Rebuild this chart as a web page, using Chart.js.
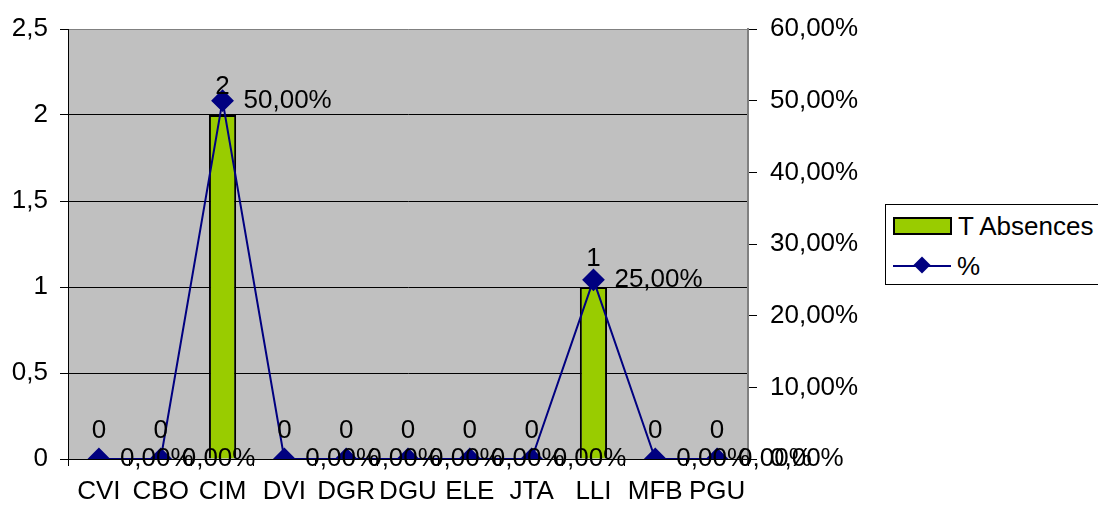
<!DOCTYPE html>
<html lang="fr">
<head>
  <meta charset="UTF-8" />
  <title>T Absences / %</title>
  <script src="https://cdn.jsdelivr.net/npm/chart.js"></script>
  <style>
    html, body {
      margin: 0;
      padding: 0;
      background: #fff;
      overflow: hidden;
    }
    #wrap {
      position: relative;
      width: 1098px;
      height: 507px;
    }
    #legend {
      position: absolute;
      left: 885px;
      top: 204px;
      width: 240px;
      height: 79px;
      border: 1px solid #000;
      background: #fff;
      font-family: "Liberation Sans", Arial, sans-serif;
      font-size: 26px;
      color: #000;
    }
    .row {
      position: absolute;
      left: 7px;
      height: 30px;
      display: flex;
      align-items: center;
    }
    .swatch-bar {
      width: 55px;
      height: 14px;
      background: #99cc00;
      border: 2px solid #000;
      margin-right: 6px;
    }
    .swatch-line {
      position: relative;
      width: 58px;
      height: 2px;
      background: #000080;
      margin-right: 6px;
    }
    .swatch-line span {
      position: absolute;
      left: 23px;
      top: -6px;
      width: 12px;
      height: 12px;
      background: #000080;
      transform: rotate(45deg);
    }
  </style>
</head>
<body>
  <div id="wrap">
    <canvas id="absChart" width="1098" height="507"></canvas>
    <div id="legend">
      <div class="row" style="top:6px"><div class="swatch-bar"></div>T Absences</div>
      <div class="row" style="top:46px"><div class="swatch-line"><span></span></div>%</div>
    </div>
  </div>

  <script>
    // données
    const categories = ["CVI", "CBO", "CIM", "DVI", "DGR", "DGU", "ELE", "JTA", "LLI", "MFB", "PGU"];
    const absences = [0, 0, 2, 0, 0, 0, 0, 0, 1, 0, 0];
    const percents = [0, 0, 50, 0, 0, 0, 0, 0, 25, 0, 0];
    const leftTicks = [0, 0.5, 1, 1.5, 2, 2.5];
    const rightTicks = [0, 10, 20, 30, 40, 50, 60];

    const FONT = { family: "'Liberation Sans', Arial, sans-serif", size: 26 };

    function fmtPct(v) {
      return v.toFixed(2).replace(".", ",") + "%";
    }

    // fond gris de la zone de tracé
    const plotBg = {
      id: "plotBg",
      beforeDraw(chart) {
        const a = chart.chartArea;
        const ctx = chart.ctx;
        ctx.save();
        ctx.fillStyle = "#c0c0c0";
        ctx.fillRect(a.left, a.top, a.right - a.left, a.bottom - a.top);
        ctx.restore();
      }
    };

    // étiquettes de valeurs
    const valueLabels = {
      id: "valueLabels",
      afterDatasetsDraw(chart) {
        const ctx = chart.ctx;
        ctx.save();
        ctx.font = FONT.size + "px " + FONT.family;
        ctx.fillStyle = "#000";
        ctx.textBaseline = "middle";

        const bars = chart.getDatasetMeta(1).data;
        ctx.textAlign = "center";
        bars.forEach((el, i) => {
          ctx.fillText(String(absences[i]), el.x, el.y - 28);
        });

        const pts = chart.getDatasetMeta(0).data;
        ctx.textAlign = "left";
        pts.forEach((el, i) => {
          ctx.fillText(fmtPct(percents[i]), el.x + 21, el.y);
        });
        ctx.restore();
      }
    };

    new Chart(document.getElementById("absChart"), {
      data: {
        labels: categories,
        datasets: [
          {
            type: "line",
            label: "%",
            data: percents,
            yAxisID: "y1",
            borderColor: "#000080",
            borderWidth: 2,
            backgroundColor: "#000080",
            pointStyle: "rectRot",
            pointRadius: 10,
            pointHoverRadius: 10,
            tension: 0,
            order: 0
          },
          {
            type: "bar",
            label: "T Absences",
            data: absences,
            yAxisID: "y",
            backgroundColor: "#99cc00",
            borderColor: "#000",
            borderWidth: 2,
            categoryPercentage: 1,
            barPercentage: 0.44,
            order: 1
          }
        ]
      },
      options: {
        responsive: false,
        animation: false,
        devicePixelRatio: 1,
        layout: { padding: { top: 29, left: 0, right: 0, bottom: 0 } },
        plugins: {
          legend: { display: false },
          tooltip: { enabled: false }
        },
        scales: {
          x: {
            offset: true,
            grid: {
              offset: true,
              drawOnChartArea: false,
              drawTicks: true,
              tickLength: 7,
              tickColor: "#000"
            },
            border: { display: true, color: "#000", width: 1 },
            ticks: { font: FONT, color: "#000", padding: 10, maxRotation: 0, autoSkip: false },
            afterFit(scale) { scale.height = 48; }
          },
          y: {
            position: "left",
            min: 0,
            max: 2.5,
            afterBuildTicks(scale) { scale.ticks = leftTicks.map(v => ({ value: v })); },
            ticks: {
              font: FONT,
              color: "#000",
              padding: 12,
              callback: v => String(v).replace(".", ",")
            },
            grid: {
              color: c => (c.tick && c.tick.value === 2.5 ? "#808080" : "#000"),
              lineWidth: 1,
              tickLength: 8,
              tickColor: "#000"
            },
            border: { display: true, color: "#000", width: 1 },
            afterFit(scale) { scale.width = 68; }
          },
          y1: {
            position: "right",
            min: 0,
            max: 60,
            afterBuildTicks(scale) { scale.ticks = rightTicks.map(v => ({ value: v })); },
            ticks: {
              font: FONT,
              color: "#000",
              padding: 13,
              callback: v => fmtPct(v)
            },
            grid: {
              drawOnChartArea: false,
              tickLength: 9,
              tickColor: "#000"
            },
            border: { display: true, color: "#808080", width: 2 },
            afterFit(scale) { scale.width = 350; }
          }
        }
      },
      plugins: [plotBg, valueLabels]
    });
  </script>
</body>
</html>
